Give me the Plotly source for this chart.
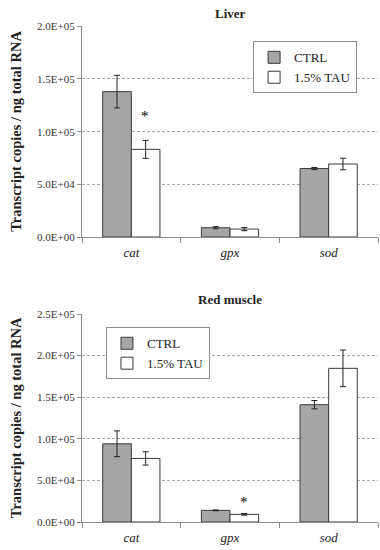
import plotly.graph_objects as go

genes = ["cat", "gpx", "sod"]
series_names = ["CTRL", "1.5% TAU"]

liver_ctrl = [1.38e5, 8.8e3, 6.5e4]
liver_ctrl_err = [1.55e4, 1.0e3, 1.0e3]
liver_tau = [8.32e4, 7.5e3, 6.93e4]
liver_tau_err = [8.5e3, 1.5e3, 5.5e3]

muscle_ctrl = [9.4e4, 1.4e4, 1.41e5]
muscle_ctrl_err = [1.55e4, 500, 5e3]
muscle_tau = [7.64e4, 9.2e3, 1.847e5]
muscle_tau_err = [8e3, 1.0e3, 2.2e4]

liver_ticks = [0, 5e4, 1e5, 1.5e5, 2e5]
liver_ticktext = ["0.0E+00", "5.0E+04", "1.0E+05", "1.5E+05", "2.0E+05"]
muscle_ticks = [0, 5e4, 1e5, 1.5e5, 2e5, 2.5e5]
muscle_ticktext = ["0.0E+00", "5.0E+04", "1.0E+05", "1.5E+05", "2.0E+05", "2.5E+05"]

FONT = "Liberation Serif"
CTRL_COLOR = "#A6A6A6"
EDGE = "#3A3A3A"

fig = go.Figure()

def add_bars(ctrl, ctrl_err, tau, tau_err, xa, ya, legend):
    fig.add_trace(go.Bar(
        x=genes, y=ctrl, name=series_names[0], xaxis=xa, yaxis=ya, legend=legend,
        marker=dict(color=CTRL_COLOR, line=dict(color=EDGE, width=1)),
        error_y=dict(type="data", array=ctrl_err, color="#222", thickness=1, width=3),
    ))
    fig.add_trace(go.Bar(
        x=genes, y=tau, name=series_names[1], xaxis=xa, yaxis=ya, legend=legend,
        marker=dict(color="white", line=dict(color=EDGE, width=1)),
        error_y=dict(type="data", array=tau_err, color="#222", thickness=1, width=3),
    ))

add_bars(liver_ctrl, liver_ctrl_err, liver_tau, liver_tau_err, "x", "y", "legend")
add_bars(muscle_ctrl, muscle_ctrl_err, muscle_tau, muscle_tau_err, "x2", "y2", "legend2")

axis_common = dict(
    showline=True, linecolor="#8C8C8C", linewidth=1, automargin=False,
)
xcommon = dict(axis_common, type="category", ticks="outside", tickson="boundaries",
               ticklen=5, tickcolor="#8C8C8C", showgrid=False, ticklabelstandoff=3,
               tickfont=dict(family=FONT, size=13, color="#222", style="italic"))
ycommon = dict(axis_common, ticks="outside", ticklen=4, tickcolor="#8C8C8C",
               showgrid=True, gridcolor="#A8A8A8", griddash="3px,2px", gridwidth=1,
               zeroline=False,
               tickfont=dict(family=FONT, size=11, color="#333"),
               title=dict(text="<b>Transcript copies / ng total RNA</b>",
                          font=dict(family=FONT, size=14.5, color="#222"), standoff=12))

fig.update_layout(
    width=380, height=550,
    margin=dict(l=82, r=2, t=26, b=28),
    paper_bgcolor="white", plot_bgcolor="white",
    barmode="group", bargap=0.42, bargroupgap=0,
    font=dict(family=FONT, color="#222"),
    xaxis=dict(xcommon, anchor="y", domain=[0, 1]),
    yaxis=dict(ycommon, anchor="x", domain=[0.5746, 1], range=[0, 2.003e5],
               tickvals=liver_ticks, ticktext=liver_ticktext),
    xaxis2=dict(xcommon, anchor="y2", domain=[0, 1]),
    yaxis2=dict(ycommon, anchor="x2", domain=[0, 0.42], range=[0, 2.504e5],
                tickvals=muscle_ticks, ticktext=muscle_ticktext),
    legend=dict(x=0.578, y=0.969, xanchor="left", yanchor="top",
                bordercolor="#8C8C8C", borderwidth=1, bgcolor="white",
                font=dict(family=FONT, size=13, color="#222"),
                tracegroupgap=0, itemwidth=30),
    legend2=dict(x=0.081, y=0.3925, xanchor="left", yanchor="top",
                 bordercolor="#8C8C8C", borderwidth=1, bgcolor="white",
                 font=dict(family=FONT, size=13, color="#222"),
                 tracegroupgap=0, itemwidth=30),
    showlegend=True,
)

# Titles
fig.add_annotation(text="<b>Liver</b>", xref="x domain", yref="y domain", x=0.5, y=1,
                   yanchor="bottom", yshift=3, showarrow=False,
                   font=dict(family=FONT, size=13, color="#222"))
fig.add_annotation(text="<b>Red muscle</b>", xref="x2 domain", yref="y2 domain", x=0.5, y=1,
                   yanchor="bottom", yshift=5, showarrow=False,
                   font=dict(family=FONT, size=13, color="#222"))

# Significance markers above TAU bars
fig.add_annotation(text="*", xref="x", yref="y", x=genes[0],
                   y=liver_tau[0] + liver_tau_err[0], xshift=14, yshift=24,
                   yanchor="middle", showarrow=False,
                   font=dict(family=FONT, size=15, color="#000000"))
fig.add_annotation(text="*", xref="x2", yref="y2", x=genes[1],
                   y=muscle_tau[1] + muscle_tau_err[1], xshift=14, yshift=12,
                   yanchor="middle", showarrow=False,
                   font=dict(family=FONT, size=15, color="#000000"))

fig.write_html(
    "out.html",
    config={"displayModeBar": False},
    post_script="document.body.style.margin='0px';document.body.style.overflow='hidden';",
)
